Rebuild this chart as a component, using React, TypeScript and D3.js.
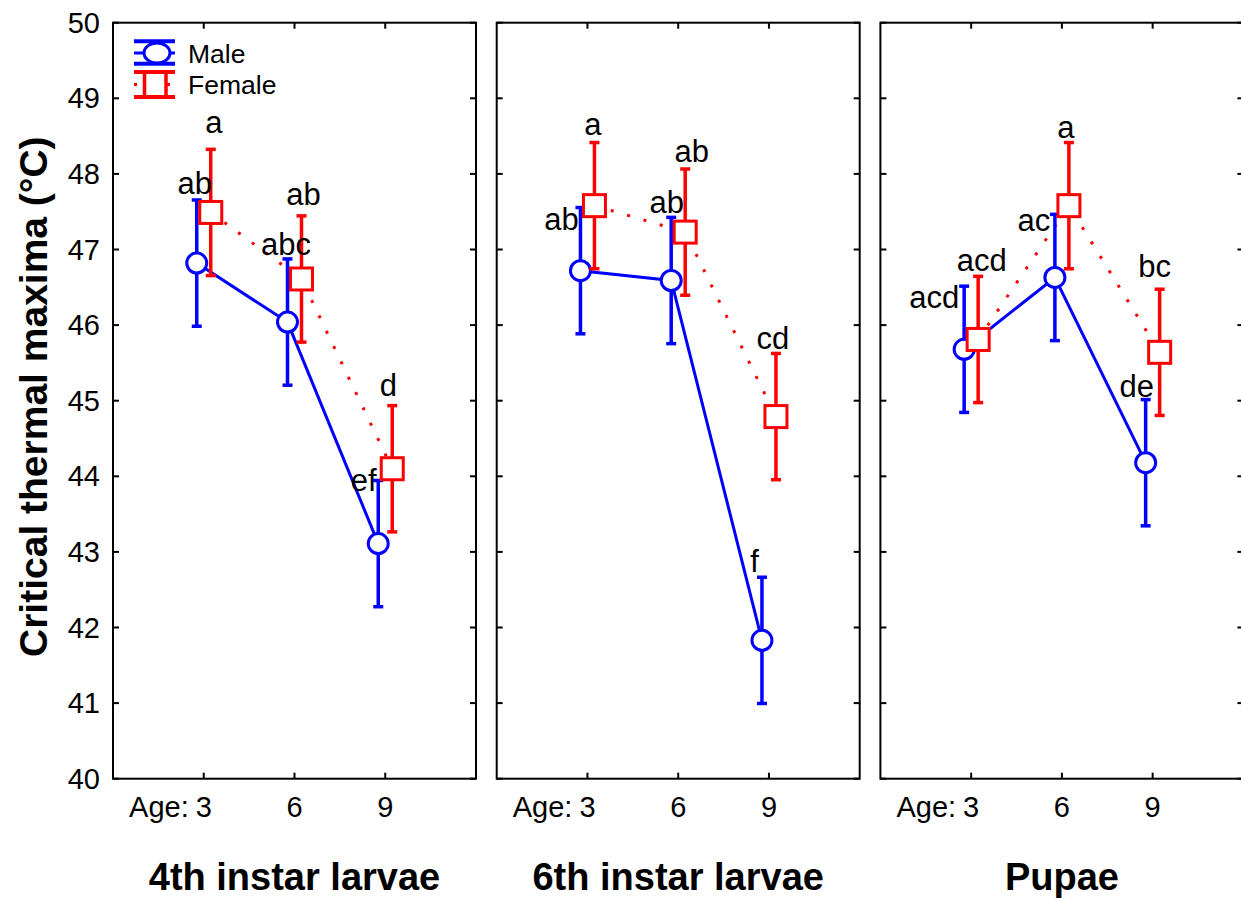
import * as d3 from "d3";

const stages = ["4th instar larvae", "6th instar larvae", "Pupae"];
const ages = [3, 6, 9];
const yTicks = [40, 41, 42, 43, 44, 45, 46, 47, 48, 49, 50];

// means per stage, by age 3, 6, 9
const maleMean = [
  [46.82, 46.04, 43.11],
  [46.72, 46.59, 41.83],
  [45.68, 46.63, 44.18],
];
const femaleMean = [
  [47.49, 46.61, 44.1],
  [47.58, 47.23, 44.79],
  [45.81, 47.58, 45.64],
];
// half-width of the vertical bars
const maleErr = [
  [0.835, 0.835, 0.835],
  [0.835, 0.835, 0.835],
  [0.835, 0.835, 0.835],
];
const femaleErr = [
  [0.835, 0.835, 0.835],
  [0.835, 0.835, 0.835],
  [0.835, 0.835, 0.835],
];
const maleLetters = [
  ["ab", "abc", "ef"],
  ["ab", "ab", "f"],
  ["acd", "ac", "de"],
];
const femaleLetters = [
  ["a", "ab", "d"],
  ["a", "ab", "cd"],
  ["acd", "a", "bc"],
];

// hand placement of the letters: [dx from marker, baseline from bar top]
const maleNudge = [
  [[-2, -6], [-1.5, -4], [-14.5, 11]],
  [[-19, 22], [-4.5, -4], [-7.5, -5]],
  [[-30, 22], [-21, 17], [-9, -3]],
];
const femaleNudge = [
  [[3, -16], [2, -11], [-4, -10]],
  [[-1.5, -8], [6.5, -7], [-3, -4]],
  [[3.5, -5], [-3, -5], [-5, -12]],
];

const W = 1241;
const H = 899;
const top = 22.7;
const bottom = 778.7;
const panelW = 363;
const panelStep = 383.7;
const firstLeft = 113;
const jitter = 7;
const font = "'Liberation Sans', Arial, sans-serif";
const BLUE = "#0000ff";
const RED = "#ff0000";

const y = d3.scaleLinear().domain([40, 50]).range([bottom, top]);

function Panel({ i }: { i: number }) {
  const left = firstLeft + i * panelStep;
  const x = d3.scaleLinear().domain([0, 4]).range([left, left + panelW]);
  const pos = ages.map((_, k) => k + 1);
  const line = d3
    .line<[number, number]>()
    .x((d) => d[0])
    .y((d) => d[1]);

  const malePts: [number, number][] = maleMean[i].map((v, k) => [x(pos[k]) - jitter, y(v)]);
  const femalePts: [number, number][] = femaleMean[i].map((v, k) => [x(pos[k]) + jitter, y(v)]);

  const errBar = (cx: number, m: number, e: number, color: string, key: string) => (
    <g key={key} stroke={color} strokeWidth={3.5}>
      <line x1={cx} x2={cx} y1={y(m + e)} y2={y(m - e)} />
      <line x1={cx - 5} x2={cx + 5} y1={y(m + e)} y2={y(m + e)} />
      <line x1={cx - 5} x2={cx + 5} y1={y(m - e)} y2={y(m - e)} />
    </g>
  );

  return (
    <g>
      {/* frame */}
      <rect x={left} y={top} width={panelW} height={bottom - top} fill="none" stroke="#000" strokeWidth={2} />
      {yTicks.map((t) => (
        <g key={"yt" + t} stroke="#000" strokeWidth={2}>
          <line x1={left} x2={left + 6} y1={y(t)} y2={y(t)} />
          <line x1={left + panelW - 6} x2={left + panelW} y1={y(t)} y2={y(t)} />
        </g>
      ))}
      {pos.map((p) => (
        <g key={"xt" + p} stroke="#000" strokeWidth={2}>
          <line x1={x(p)} x2={x(p)} y1={bottom} y2={bottom - 6} />
          <line x1={x(p)} x2={x(p)} y1={top} y2={top + 6} />
        </g>
      ))}
      {i === 0 &&
        yTicks.map((t) => (
          <text key={"yl" + t} x={100} y={y(t) + 10} textAnchor="end" fontSize={29} fontFamily={font}>
            {t}
          </text>
        ))}
      {ages.map((a, k) => (
        <text key={"xl" + a} x={x(pos[k])} y={817} textAnchor="middle" fontSize={29} fontFamily={font}>
          {a}
        </text>
      ))}
      <text x={x(1) - 15} y={817} textAnchor="end" fontSize={29} fontFamily={font}>
        Age:
      </text>
      <text x={x(2)} y={890} textAnchor="middle" fontSize={38} fontWeight="bold" fontFamily={font}>
        {stages[i]}
      </text>

      {/* connecting lines */}
      <path d={line(malePts) || ""} fill="none" stroke={BLUE} strokeWidth={3} />
      <path d={line(femalePts) || ""} fill="none" stroke={RED} strokeWidth={3} strokeDasharray="3 14" />

      {malePts.map((p, k) => errBar(p[0], maleMean[i][k], maleErr[i][k], BLUE, "me" + k))}
      {malePts.map((p, k) => (
        <circle key={"mc" + k} cx={p[0]} cy={p[1]} r={10} fill="#fff" stroke={BLUE} strokeWidth={3} />
      ))}
      {femalePts.map((p, k) => errBar(p[0], femaleMean[i][k], femaleErr[i][k], RED, "fe" + k))}
      {femalePts.map((p, k) => (
        <rect key={"fs" + k} x={p[0] - 11} y={p[1] - 11} width={22} height={22} fill="#fff" stroke={RED} strokeWidth={3} />
      ))}

      {malePts.map((p, k) => (
        <text
          key={"ml" + k}
          x={p[0] + maleNudge[i][k][0]}
          y={y(maleMean[i][k] + maleErr[i][k]) + maleNudge[i][k][1]}
          textAnchor="middle"
          fontSize={31}
          fontFamily={font}
        >
          {maleLetters[i][k]}
        </text>
      ))}
      {femalePts.map((p, k) => (
        <text
          key={"fl" + k}
          x={p[0] + femaleNudge[i][k][0]}
          y={y(femaleMean[i][k] + femaleErr[i][k]) + femaleNudge[i][k][1]}
          textAnchor="middle"
          fontSize={31}
          fontFamily={font}
        >
          {femaleLetters[i][k]}
        </text>
      ))}
    </g>
  );
}

function Legend() {
  return (
    <g>
      <g stroke={BLUE} strokeWidth={4}>
        <line x1={134} x2={175} y1={41.3} y2={41.3} />
        <line x1={134} x2={175} y1={63.7} y2={63.7} />
        <line x1={134} x2={175} y1={53} y2={53} strokeWidth={3} />
        <ellipse cx={157} cy={53} rx={13} ry={10} fill="#fff" strokeWidth={3} />
      </g>
      <g stroke={RED} strokeWidth={4}>
        <line x1={134} x2={175} y1={84.5} y2={84.5} strokeWidth={3} strokeDasharray="3 30" />
        <rect x={144.5} y={72} width={21.5} height={25} fill="#fff" strokeWidth={3.5} />
        <line x1={134} x2={175} y1={72} y2={72} />
        <line x1={134} x2={175} y1={97} y2={97} />
      </g>
      <text x={188} y={63} fontSize={26.5} fontFamily={font}>
        Male
      </text>
      <text x={188} y={93.5} fontSize={26.5} fontFamily={font}>
        Female
      </text>
    </g>
  );
}

export default function App() {
  return (
    <svg
      width={W}
      height={H}
      style={{ position: "absolute", left: 0, top: 0, display: "block", background: "#fff" }}
    >
      {stages.map((_, i) => (
        <Panel key={i} i={i} />
      ))}
      <Legend />
      <text
        transform={`translate(47,${(top + bottom) / 2 - 4}) rotate(-90)`}
        textAnchor="middle"
        fontSize={39}
        fontWeight="bold"
        fontFamily={font}
      >
        Critical thermal maxima (°C)
      </text>
    </svg>
  );
}
